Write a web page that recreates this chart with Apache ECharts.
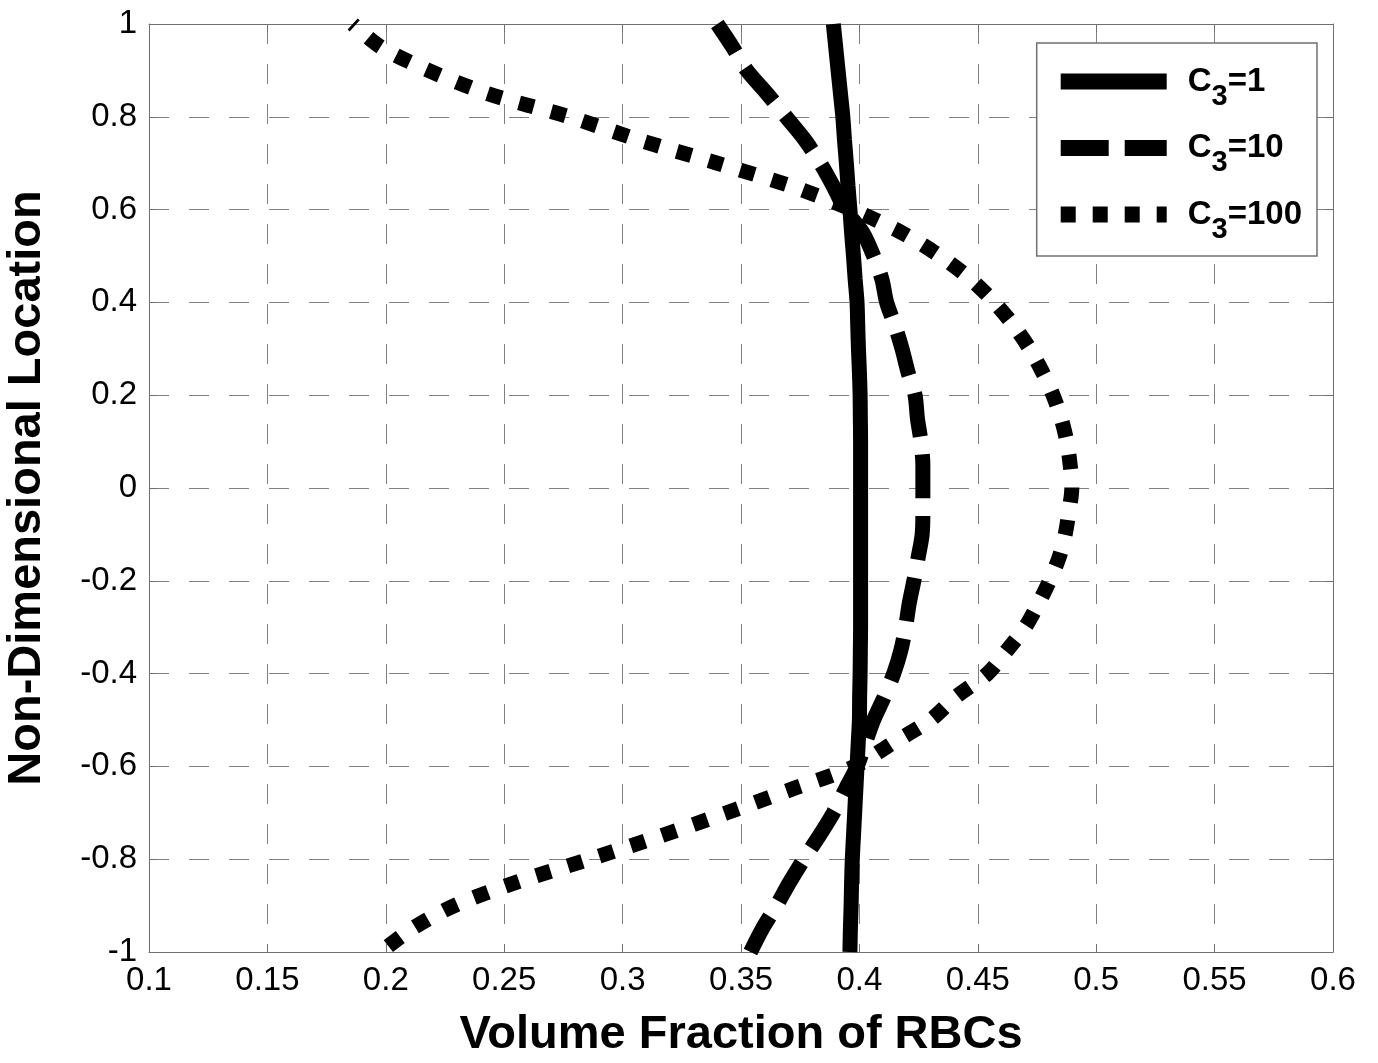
<!DOCTYPE html>
<html>
<head>
<meta charset="utf-8">
<script src="https://cdn.jsdelivr.net/npm/echarts@6/dist/echarts.min.js"></script>
<style>
html, body { margin: 0; padding: 0; background: #fff; }
#chart { width: 1378px; height: 1063px; }
</style>
</head>
<body>
<div id="chart"></div>
<script>
// non-dimensional location (y) from top wall to bottom wall
var locations = [1, 0.95, 0.9, 0.85, 0.8, 0.75, 0.7, 0.65, 0.6, 0.55, 0.5, 0.45, 0.4, 0.35, 0.3, 0.25, 0.2, 0.15, 0.1, 0.05, 0,
	-0.05, -0.1, -0.15, -0.2, -0.25, -0.3, -0.35, -0.4, -0.45, -0.5, -0.55, -0.6, -0.65, -0.7, -0.75, -0.8, -0.85, -0.9, -0.95, -1];

// volume fraction of RBCs, C3=1
var c3_1 = [0.389, 0.3900, 0.3910, 0.3920, 0.393, 0.3937, 0.3945, 0.3952, 0.396, 0.3967, 0.3975, 0.3982, 0.399, 0.3993, 0.3996, 0.4, 0.4003, 0.4004, 0.4005, 0.4005, 0.4005,
	0.4005, 0.4005, 0.4005, 0.4005, 0.4005, 0.4005, 0.4004, 0.4003, 0.4001, 0.4, 0.3995, 0.399, 0.3985, 0.398, 0.3975, 0.397, 0.3967, 0.3965, 0.3962, 0.396];

// C3=10
var c3_10 = [0.340, 0.3465, 0.3525, 0.361, 0.369, 0.377, 0.3835, 0.389, 0.394, 0.4015, 0.406, 0.4095, 0.4115, 0.415, 0.418, 0.4205, 0.4235, 0.4245, 0.426, 0.4268, 0.4268,
	0.4268, 0.4265, 0.4248, 0.423, 0.421, 0.4195, 0.4175, 0.4145, 0.4105, 0.406, 0.4025, 0.399, 0.394, 0.389, 0.383, 0.3765, 0.3705, 0.365, 0.359, 0.354];

// C3=100
var c3_100 = [0.186, 0.198, 0.218, 0.243, 0.2775, 0.307, 0.340, 0.3715, 0.397, 0.418, 0.434, 0.447, 0.457, 0.4652, 0.4719, 0.4773, 0.4818, 0.4852, 0.4876, 0.489, 0.4897,
	0.4885, 0.4869, 0.4843, 0.4803, 0.4755, 0.470, 0.4623, 0.4541, 0.4408, 0.430, 0.414, 0.398, 0.371, 0.344, 0.316, 0.286, 0.255, 0.229, 0.211, 0.198];

var seriesNames = ['C3=1', 'C3=10', 'C3=100'];
var legendLabels = {
	'C3=1': '{b|C}{s|3}{b|=1}',
	'C3=10': '{b|C}{s|3}{b|=10}',
	'C3=100': '{b|C}{s|3}{b|=100}'
};
// legend swatches drawn like the line styles
var legendIcons = [
	'rect',
	'path://M0,0H48V16H0Z M64,0H106V16H64Z',
	'path://M0,0H15V16H0Z M32,0H47V16H32Z M64,0H79V16H64Z M96,0H106V16H96Z'
];

function pairs(xs) {
	var out = [];
	for (var i = 0; i < locations.length; i++) {
		out.push([xs[i], locations[i]]);
	}
	return out;
}

var font = 'Liberation Sans, Arial, Helvetica, sans-serif';
var gridLine = { show: true, lineStyle: { color: '#808080', width: 1, type: [20, 20] } };
var edgeLine = { show: true, onZero: false, lineStyle: { color: '#707070', width: 1 } };
var edgeTick = { show: true, inside: true, length: 8, lineStyle: { color: '#707070' } };

var myChart = echarts.init(document.getElementById('chart'));
var option = {
	animation: false,
	backgroundColor: '#ffffff',
	grid: {
		left: 149,
		right: 45,
		top: 24,
		bottom: 111,
		outerBoundsMode: 'none',
		containLabel: false
	},
	legend: {
		data: seriesNames.map(function (n, i) {
			return { name: n, icon: legendIcons[i] };
		}),
		orient: 'vertical',
		right: 61,
		top: 43,
		padding: [22, 15, 12, 24],
		itemGap: 20.5,
		itemWidth: 106,
		itemHeight: 16,
		itemStyle: { color: '#000' },
		backgroundColor: '#ffffff',
		borderColor: '#707070',
		borderWidth: 1.5,
		borderRadius: 0,
		formatter: function (name) {
			return legendLabels[name];
		},
		textStyle: {
			padding: [0, 0, 0, 16],
			rich: {
				b: { fontFamily: font, fontWeight: 'bold', fontSize: 33, color: '#000', lineHeight: 33, verticalAlign: 'top' },
				s: { fontFamily: font, fontWeight: 'bold', fontSize: 29, color: '#000', lineHeight: 29, verticalAlign: 'top', padding: [17, 0, 0, 0] }
			}
		}
	},
	xAxis: [{
		type: 'value',
		min: 0.1,
		max: 0.6,
		interval: 0.05,
		name: 'Volume Fraction of RBCs',
		nameLocation: 'middle',
		nameGap: 60,
		nameTextStyle: { fontFamily: font, fontWeight: 'bold', fontSize: 47, color: '#000' },
		axisLine: edgeLine,
		axisTick: edgeTick,
		axisLabel: { fontFamily: font, fontSize: 33, color: '#000', margin: 12 },
		splitLine: gridLine
	}, {
		type: 'value',
		position: 'top',
		min: 0.1,
		max: 0.6,
		interval: 0.05,
		axisLine: edgeLine,
		axisTick: edgeTick,
		axisLabel: { show: false },
		splitLine: { show: false }
	}],
	yAxis: [{
		type: 'value',
		min: -1,
		max: 1,
		interval: 0.2,
		name: 'Non-Dimensional Location',
		nameLocation: 'middle',
		nameGap: 98,
		nameTextStyle: { fontFamily: font, fontWeight: 'bold', fontSize: 47, color: '#000' },
		axisLine: edgeLine,
		axisTick: edgeTick,
		axisLabel: { fontFamily: font, fontSize: 33, color: '#000', margin: 12 },
		splitLine: gridLine
	}, {
		type: 'value',
		position: 'right',
		min: -1,
		max: 1,
		interval: 0.2,
		axisLine: edgeLine,
		axisTick: edgeTick,
		axisLabel: { show: false },
		splitLine: { show: false }
	}],
	series: [{
		name: 'C3=1',
		type: 'line',
		symbol: 'none',
		smooth: 0.3,
		itemStyle: { color: '#000' },
		lineStyle: { color: '#000', width: 15, type: 'solid' },
		data: pairs(c3_1)
	}, {
		name: 'C3=10',
		type: 'line',
		symbol: 'none',
		smooth: 0.3,
		itemStyle: { color: '#000' },
		lineStyle: { color: '#000', width: 15, type: [44, 18], dashOffset: 10 },
		data: pairs(c3_10)
	}, {
		name: 'C3=100',
		type: 'line',
		symbol: 'none',
		smooth: 0.3,
		itemStyle: { color: '#000' },
		lineStyle: { color: '#000', width: 15, type: [15, 18], dashOffset: 12 },
		data: pairs(c3_100)
	}]
};
myChart.setOption(option);
</script>
</body>
</html>
